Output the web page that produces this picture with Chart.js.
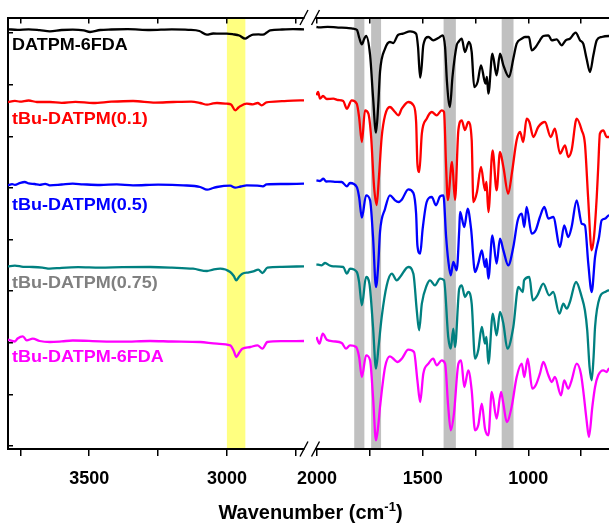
<!DOCTYPE html>
<html>
<head>
<meta charset="utf-8">
<script src="https://cdn.jsdelivr.net/npm/chart.js@4.4.1/dist/chart.umd.min.js"></script>
<style>
  html, body { margin: 0; padding: 0; background: #fff; overflow: hidden; }
  #wrap { position: relative; width: 609px; height: 524px; overflow: hidden; background: #fff; }
  #wrap canvas { position: absolute; top: 0; }
  #left { left: 0; }
  #right { left: 290px; }
  #title {
    position: absolute; left: 0; width: 621px; top: 502px; text-align: center;
    font: bold 20px "Liberation Sans", Arial, sans-serif; line-height: 20px; white-space: nowrap; color: #000;
  }
  #title sup { font-size: 13px; line-height: 0; vertical-align: 0; position: relative; top: -8px; }
</style>
</head>
<body>
<div id="wrap">
  <canvas id="left" width="312" height="524"></canvas>
  <canvas id="right" width="335" height="524"></canvas>
  <div id="title">Wavenumber (cm<sup>-1</sup>)</div>
</div>
<script>
// FTIR spectra, stacked with vertical offsets (transmittance, arbitrary units).
// Each spectrum is split into a high-wavenumber part (3800-2720 cm-1) and a
// fingerprint part (2000-600 cm-1); pairs are [wavenumber, offset transmittance].

const SERIES = ['DATPM-6FDA', 'tBu-DATPM(0.1)', 'tBu-DATPM(0.5)', 'tBu-DATPM(0.75)', 'tBu-DATPM-6FDA'];

const blackLeft = [[3795,416.7],[3760,416.2],[3720,416.6],[3680,415.8],[3643,414.7],[3600,416],[3560,416.4],[3520,415.6],[3497,414],[3460,416],[3420,416.5],[3360,416.8],[3279,416],[3200,416.6],[3140,416.2],[3100,415],[3073,411.3],[3050,412.5],[3024,412.3],[3000,412.4],[2977,411.7],[2955,410.5],[2934,407.3],[2920,409.5],[2905,411.3],[2885,411.6],[2869,411.3],[2855,413.5],[2843,415.7],[2800,416.5],[2760,416.8],[2720,416.7]];
const redLeft = [[3795,344],[3770,345.2],[3752,344.3],[3720,345.5],[3690,344],[3643,344],[3600,343.2],[3550,344.2],[3486,343],[3420,344.3],[3341,345],[3260,343.4],[3195,344],[3130,344.4],[3097,343],[3072,341.3],[3050,342.6],[3036,343],[3000,342.3],[2985,341.5],[2970,335.7],[2958,338.5],[2952,339.7],[2928,342.3],[2906,341.7],[2888,343],[2874,340.7],[2856,343.7],[2800,344.8],[2760,345.4],[2720,345.7]];
const blueLeft = [[3795,260.7],[3780,261.8],[3770,261.2],[3750,263.2],[3734,264],[3720,262.6],[3698,262],[3680,261.2],[3660,262.2],[3643,260.7],[3600,261.5],[3560,262.3],[3523,261.7],[3460,261],[3400,261.6],[3341,260.7],[3250,261.3],[3159,260.7],[3097,259],[3072,256.3],[3050,258],[3036,259],[2988,260.3],[2970,258.3],[2950,259.5],[2928,260.7],[2890,260.3],[2869,259.7],[2856,261.7],[2800,262],[2720,262.3]];
const tealLeft = [[3795,179.7],[3770,180.4],[3740,179.2],[3705,179],[3670,178.4],[3643,177.3],[3600,178.2],[3540,178.8],[3461,178.3],[3380,178.8],[3279,179],[3200,178.4],[3123,177.3],[3072,175],[3050,176.4],[3024,177.3],[2988,174],[2975,170],[2966,165.7],[2955,169.5],[2944,172.3],[2920,173.6],[2904,174.7],[2886,176.3],[2871,173],[2853,178.3],[2800,179.2],[2720,179.7]];
const magentaLeft = [[3795,106.3],[3770,104.5],[3760,107.5],[3741,109.7],[3727,105.7],[3705,107.3],[3680,105],[3643,104],[3600,104.6],[3560,105.5],[3461,104.7],[3380,104.4],[3279,105],[3200,104.5],[3097,104],[3036,102.3],[2988,100.7],[2975,95],[2966,89],[2955,93.5],[2944,97.3],[2915,99],[2889,100.7],[2871,97.3],[2853,104],[2800,104.8],[2720,105]];

const blackRight = [[2003,419],[1990,418.6],[1950,419.2],[1900,418.4],[1860,418.2],[1828,417.3],[1811,416],[1800,408],[1788,401.7],[1777,407],[1768,410],[1749,391],[1735,349],[1721,313.3],[1711,339],[1702,374],[1678,397.3],[1655,404],[1639,403],[1617,411],[1593,412.3],[1560,414.7],[1531,412.3],[1522,399],[1512,368.3],[1505,379],[1497,400.7],[1473,409],[1450,405.7],[1426,408],[1405,410.7],[1394,399],[1385,364],[1371,339],[1359,369],[1339,400.7],[1331,404],[1315,407.3],[1300,394],[1281,404],[1268,394],[1256,359],[1240,364],[1224,380.7],[1208,365.7],[1202,362.3],[1196,369],[1189,352.3],[1170,392.3],[1150,370.7],[1134,392.3],[1118,380.7],[1091,369],[1071,387.3],[1055,402.3],[1031,407.3],[1016,409],[997,409],[984,395.7],[965,399],[945,405.7],[929,410],[905,410.7],[889,405.7],[866,406.7],[842,400.7],[823,405.7],[803,407.3],[776,413.3],[755,405.7],[740,402.3],[724,387.3],[708,374],[692,390.7],[676,405.7],[653,409],[618,410],[600,410]];
const redRight = [[2003,350.7],[1995,354],[1986,347.3],[1972,350],[1954,347],[1923,347.3],[1901,346],[1876,345],[1859,337.3],[1836,345.7],[1812,342.3],[1801,329],[1788,304],[1773,335.7],[1757,332.3],[1744,309],[1730,259],[1718,241],[1707,269],[1694,309],[1678,330.7],[1655,339],[1631,334],[1615,330.7],[1599,337.3],[1568,344],[1544,340.7],[1531,324],[1525,282.3],[1516,274],[1504,312.3],[1481,327.3],[1457,334],[1434,330.7],[1410,335.7],[1399,334],[1389,279],[1381,246],[1361,284],[1347,246],[1331,316],[1315,325.7],[1300,316],[1284,324],[1268,306],[1260,244],[1243,254],[1224,279],[1205,255.7],[1198,264],[1189,234],[1169,295.7],[1150,255.7],[1134,294],[1118,279],[1095,252.3],[1077,274],[1055,306],[1039,314],[1024,304],[1008,327.3],[995,324],[976,309],[953,319],[921,324],[894,309],[874,317.3],[850,292.3],[826,300.7],[811,289],[795,295.7],[771,327.3],[747,315.7],[732,302.3],[717,249],[700,195.7],[689,209],[676,249],[669,279],[661,312.3],[645,315.7],[629,309],[618,309],[600,311]];
const blueRight = [[2003,265.7],[1986,265],[1970,267.3],[1957,264.5],[1938,264.7],[1910,264.2],[1883,264],[1859,259.7],[1844,263],[1812,259],[1801,249],[1788,228.3],[1768,250.7],[1749,245.7],[1735,209],[1721,159],[1711,179],[1702,214],[1678,237.3],[1655,250.7],[1631,245.7],[1615,244],[1599,246.3],[1568,256.7],[1544,253],[1531,232],[1525,200.7],[1512,192.3],[1500,217.3],[1481,244],[1457,249],[1437,240.7],[1418,249.7],[1402,250.7],[1389,209],[1379,185.7],[1367,170.7],[1355,184],[1339,175.7],[1327,216],[1323,234],[1303,219],[1287,237.3],[1271,217.3],[1252,174],[1237,182.3],[1220,195.7],[1205,179],[1198,187],[1189,167.3],[1170,210.7],[1150,182.3],[1134,207.3],[1118,195.7],[1095,180.7],[1071,199],[1050,225.7],[1031,232.3],[1019,219],[1008,239],[984,212.3],[965,215.7],[945,229],[924,239],[905,227.3],[882,229],[850,199],[830,220.7],[811,209],[795,219],[771,245.7],[747,222.3],[732,220.7],[716,182.3],[700,154],[684,189],[665,209],[653,225.7],[637,227.3],[618,230.7],[600,230]];
const tealRight = [[2003,181.7],[1978,180.7],[1962,183],[1940,180.5],[1923,179.7],[1876,179],[1859,172.3],[1844,177.3],[1812,174],[1801,164],[1788,140.7],[1768,169],[1752,162.3],[1735,119],[1721,77.3],[1709,99],[1694,129],[1670,160.7],[1646,172.3],[1623,165.7],[1607,169],[1568,179],[1544,172.3],[1528,135.7],[1517,115.7],[1504,142.3],[1481,160.7],[1465,165.7],[1442,160.7],[1418,167.3],[1399,165.7],[1379,109],[1367,97.3],[1355,117.3],[1347,99],[1327,157.3],[1315,160.7],[1300,149],[1284,154],[1268,142.3],[1252,87.3],[1237,95.7],[1220,119],[1205,102.3],[1198,109],[1189,82.3],[1168,132.3],[1150,110.7],[1134,134],[1118,122.3],[1099,97.3],[1071,119],[1047,159],[1026,154],[1020,165.7],[995,169],[979,145.7],[957,150.7],[929,162.3],[901,150.7],[882,154],[853,132.3],[834,142.3],[818,137.3],[803,144],[774,164],[747,149],[732,135.7],[721,115.7],[710,79],[700,65.7],[691,89],[684,119],[661,149],[637,154],[618,155.7],[600,155.7]];
const magentaRight = [[2003,109],[1989,102.3],[1973,112.3],[1954,106.3],[1923,104.7],[1883,103],[1863,97.3],[1844,100.7],[1815,99],[1801,89],[1788,69],[1768,90.7],[1749,85.7],[1735,49],[1721,5.7],[1711,19],[1702,39],[1678,79],[1655,89.7],[1631,85.7],[1620,84],[1599,87.3],[1568,96.3],[1541,94],[1525,65.7],[1512,44],[1497,72.3],[1473,82.3],[1450,87.3],[1434,80.7],[1410,85.7],[1394,82.3],[1379,39],[1367,15.7],[1352,32.3],[1331,82.3],[1318,85.7],[1303,59],[1284,75.7],[1268,55.7],[1252,15.7],[1237,20.7],[1220,42.3],[1205,17.3],[1189,10.7],[1173,54],[1150,27.3],[1129,54],[1118,42.3],[1102,24],[1079,39],[1055,69],[1031,82.3],[1019,69],[1003,87.3],[981,57.3],[965,60.7],[945,72.3],[929,84],[905,70.7],[889,64],[874,69],[845,50.7],[830,65.7],[811,57.3],[795,65.7],[771,82.3],[751,72.3],[740,55.7],[724,25.7],[713,9],[697,39],[684,59],[669,70.7],[645,75.7],[629,74],[618,77.3],[600,77]];

// Highlighted absorption regions, [high, low] in cm-1
const aliphaticBands = [[3000, 2933]];
const imideBands = [[1824, 1776], [1744, 1697], [1401, 1343], [1126, 1070]];

// Axis ranges
const leftRange = [2720, 3795];
const rightRange = [600, 2005];
const yRange = [-3, 428.5];
const yTickStep = 51.6;

// Offset level at which each curve's name is written
const labelRows = [400.7, 326.8, 240.2, 163, 88.5];

const lineColors = ['#000000', '#ff0000', '#0000ff', '#008080', '#ff00ff'];
const labelColors = ['#000000', '#ff0000', '#0000ff', '#808080', '#ff00ff'];
const FONT = '"Liberation Sans", Arial, Helvetica, sans-serif';

function makeDatasets(parts) {
  return parts.map((pairs, i) => ({
    label: SERIES[i],
    data: pairs.map(([x, y]) => ({ x, y })),
    borderColor: lineColors[i],
    borderWidth: 2.3,
    pointRadius: 0,
    fill: false,
    cubicInterpolationMode: 'monotone'
  }));
}

const bandPlugin = {
  id: 'bands',
  beforeDraw(chart, args, opts) {
    const { ctx, chartArea: a } = chart;
    const x = chart.scales.x;
    ctx.save();
    ctx.fillStyle = opts.color;
    for (const [hi, lo] of opts.bands) {
      const p1 = x.getPixelForValue(hi), p2 = x.getPixelForValue(lo);
      ctx.fillRect(Math.min(p1, p2), a.top, Math.abs(p2 - p1), a.bottom - a.top);
    }
    ctx.restore();
  }
};

const namePlugin = {
  id: 'names',
  afterDatasetsDraw(chart) {
    const { ctx, chartArea: a } = chart;
    const y = chart.scales.y;
    ctx.save();
    ctx.font = 'bold 17px ' + FONT;
    ctx.textBaseline = 'middle';
    ctx.textAlign = 'left';
    SERIES.forEach((name, i) => {
      ctx.save();
      ctx.translate(a.left + 4, y.getPixelForValue(labelRows[i]));
      ctx.scale(1.06, 1);
      ctx.fillStyle = labelColors[i];
      ctx.fillText(name, 0, 0);
      ctx.restore();
    });
    ctx.restore();
  }
};

const breakPlugin = {
  id: 'axisBreak',
  afterDraw(chart) {
    const { ctx, chartArea: a } = chart;
    ctx.save();
    ctx.strokeStyle = '#000';
    ctx.lineWidth = 1.4;
    for (const yy of [a.top, a.bottom]) {
      ctx.beginPath();
      ctx.moveTo(a.left - 16, yy + 7.5); ctx.lineTo(a.left - 8, yy - 7.5);
      ctx.moveTo(a.left - 4.5, yy + 7.5); ctx.lineTo(a.left + 3.5, yy - 7.5);
      ctx.stroke();
    }
    ctx.restore();
  }
};

// Edge labels may hang past the plot frame; keep the frame where the layout puts it.
function noLabelPadding(s) {
  s.paddingLeft = 0; s.paddingRight = 0; s.paddingTop = 0; s.paddingBottom = 0;
}

function xScales(range) {
  const common = {
    type: 'linear', reverse: true, min: range[0], max: range[1],
    border: { display: true, color: '#000', width: 2 }
  };
  return {
    x: Object.assign({}, common, {
      position: 'bottom',
      ticks: {
        stepSize: 250, includeBounds: false, autoSkip: false, maxRotation: 0, padding: 12,
        color: '#000', font: { family: FONT, size: 18, weight: 'bold' },
        callback: v => (v % 500 === 0 ? String(v) : '')
      },
      grid: { drawOnChartArea: false, drawTicks: true, tickLength: 7, color: '#000', lineWidth: 1.5 },
      afterFit: s => { s.height = 75; noLabelPadding(s); }
    }),
    xTop: Object.assign({}, common, {
      position: 'top',
      ticks: { display: false, stepSize: 250, includeBounds: false },
      grid: { drawOnChartArea: false, drawTicks: true, tickLength: -6, color: '#000', lineWidth: 1.5 },
      afterFit: s => { s.height = 0; noLabelPadding(s); }
    })
  };
}

function yScale(show) {
  return {
    type: 'linear', position: 'left', display: show, min: yRange[0], max: yRange[1],
    ticks: { display: false, stepSize: yTickStep, includeBounds: false },
    grid: { drawOnChartArea: false, drawTicks: true, tickLength: -5, color: '#000', lineWidth: 1.5 },
    border: { display: true, color: '#000', width: 2 },
    afterFit: s => { s.width = 0; noLabelPadding(s); }
  };
}

const baseOptions = {
  responsive: false,
  animation: false,
  events: [],
  devicePixelRatio: 1
};

new Chart(document.getElementById('left'), {
  type: 'line',
  data: { datasets: makeDatasets([blackLeft, redLeft, blueLeft, tealLeft, magentaLeft]) },
  options: Object.assign({}, baseOptions, {
    layout: { padding: { left: 8, right: 8, top: 17.5, bottom: 0 } },
    scales: Object.assign(xScales(leftRange), { y: yScale(true) }),
    plugins: {
      legend: { display: false }, tooltip: { enabled: false },
      bands: { color: '#ffff80', bands: aliphaticBands }
    }
  }),
  plugins: [bandPlugin, namePlugin]
});

new Chart(document.getElementById('right'), {
  type: 'line',
  data: { datasets: makeDatasets([blackRight, redRight, blueRight, tealRight, magentaRight]) },
  options: Object.assign({}, baseOptions, {
    layout: { padding: { left: 26, right: 12.2, top: 17.5, bottom: 0 } },
    scales: Object.assign(xScales(rightRange), { y: yScale(false) }),
    plugins: {
      legend: { display: false }, tooltip: { enabled: false },
      bands: { color: '#c0c0c0', bands: imideBands }
    }
  }),
  plugins: [bandPlugin, breakPlugin]
});
</script>
</body>
</html>
